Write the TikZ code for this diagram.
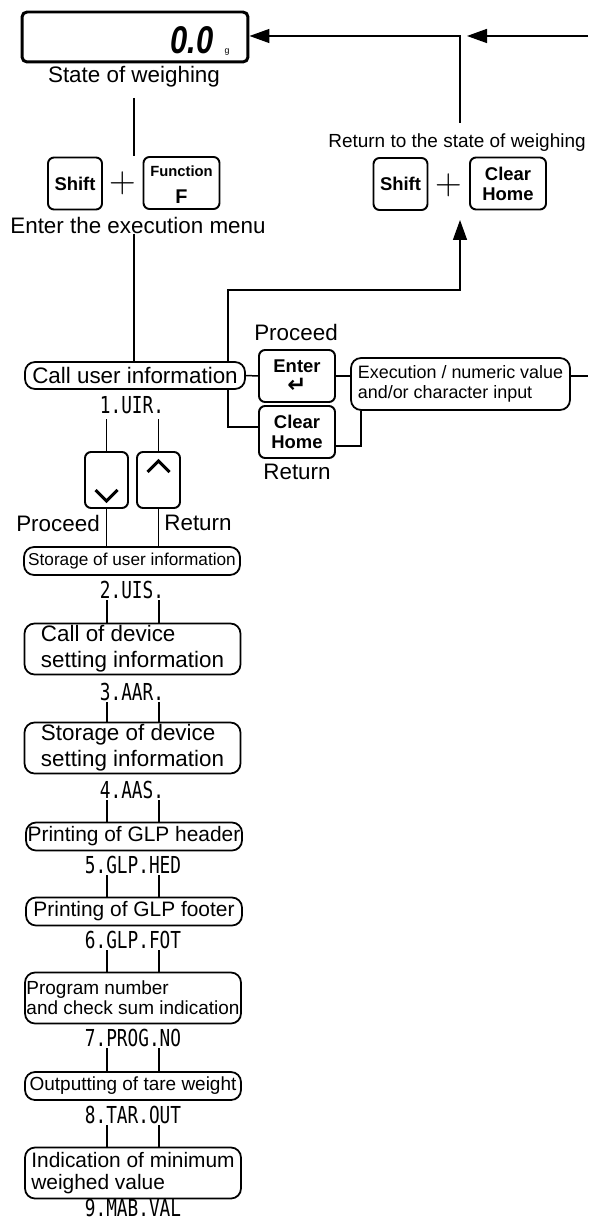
\documentclass[tikz,border=0pt]{standalone}
\usepackage{fontspec}
\setsansfont{Liberation Sans}
\renewcommand{\familydefault}{\sfdefault}
\newfontfamily\codefont[FakeStretch=0.76]{DejaVu Sans Mono}
\newfontfamily\dispfont[FakeStretch=0.8]{Liberation Sans}
\newfontfamily\symfont{DejaVu Sans}
\usetikzlibrary{arrows.meta,calc}
\newcommand{\fsz}[2]{\fontsize{#1pt}{#2pt}\selectfont}

\begin{document}
\begin{tikzpicture}[
  x=0.02cm, y=-0.02cm,
  every node/.style={font=\fsz{12.75}{14.7}, inner sep=0pt},
  wire/.style={line width=0.85pt},
  arr/.style={wire, -{Triangle[length=0.4cm,width=0.28cm]}},
  key/.style={draw, line width=1.1pt, rounded corners=0.12cm, align=center,
              font=\bfseries\fsz{10.5}{11.3}, minimum height=1.04cm},
  narrowkey/.style={key, minimum width=1.08cm},
  widekey/.style={key, minimum width=1.52cm},
  arrowkey/.style={key, minimum width=0.86cm, minimum height=1.12cm},
  menu/.style={draw, line width=1pt, rounded corners=0.2cm, align=left,
               minimum width=4.32cm},
  onerow/.style={menu, minimum height=0.56cm},
  tworow/.style={menu, minimum height=1.02cm},
  code/.style={font=\codefont\fsz{13.3}{13.3}, minimum height=0.4cm},
  plus/.style={font=\rmfamily\fsz{21}{21}},
  chev/.style={line width=1.7pt},
]
\useasboundingbox (0,0) rectangle (588,1222);

% ── weighing display ──────────────────
\node[draw, line width=1.7pt, rounded corners=0.1cm,
      minimum width=4.52cm, minimum height=1cm] (disp) at (135,37) {};
\node[font=\dispfont\bfseries\itshape\fsz{22}{22}, anchor=east] (zero) at (214,40) {0.0};
\node[font=\fsz{5}{5}] (unit) at (227,52) {g};
\node (state) at (134,77) {State of weighing};

% ── shift + function ────────────────
\node[narrowkey] (shiftA) at (75,183.5) {Shift};
\node[plus] (plusA) at (123,183) {+};
\node[widekey] (fnkey) at (181.5,183) {};
\node[font=\bfseries\fsz{8.4}{9}] (fnname) at (181.5,171) {Function};
\node[font=\bfseries\fsz{11.3}{12}] (fnletter) at (181.5,197) {F};
\node (menulbl) at (138,225) {Enter the execution menu};

% ── shift + clear/home ──────────────
\node[font=\fsz{10.8}{12}] (retlbl) at (457,143) {Return to the state of weighing};
\node[narrowkey] (shiftB) at (400.5,184) {Shift};
\node[plus] (plusB) at (449,185) {+};
\node[widekey] (clrB) at (508,183.5) {Clear\\Home};

% ── first menu item and its keys ────
\node[menu, minimum width=4.4cm, minimum height=0.54cm] (call) at (135,375.5)
  {Call user information};
\node[code] (c1) at (132,405) {1.UIR.};
\node (procR) at (296,332) {Proceed};
\node[widekey] (enter) at (297,376) {Enter\\{\symfont\fsz{13}{11.3}↵}};
\node[widekey] (clr) at (297,432) {Clear\\Home};
\node (retR) at (297,472) {Return};
\node[menu, minimum width=4.38cm, minimum height=1.04cm, font=\fsz{10.2}{11.4}]
  (exec) at (460.5,384) {Execution / numeric value\\and/or character input};

% ── up / down keys ──────────────────
\node[arrowkey] (dn) at (106.5,480) {};
\node[arrowkey] (up) at (158.5,480) {};
\draw[chev] ($(dn.center)+(-11,10)$) -- ($(dn.center)+(0,21)$) -- ($(dn.center)+(11,10)$);
\draw[chev] ($(up.center)+(-11,-8)$) -- ($(up.center)+(0,-19)$) -- ($(up.center)+(11,-8)$);
\node (procL) at (58,523) {Proceed};
\node (retL) at (198,523) {Return};

% ── menu list ───────────────────────
\node[onerow, font=\fsz{9.8}{11}] (b2) at (132,561) {Storage of user information};
\node[code] (c2) at (132,590) {2.UIS.};
\node[tworow] (b3) at (132.5,649) {Call of device\\setting information};
\node[code] (c3) at (132,692) {3.AAR.};
\node[tworow] (b4) at (132.5,748) {Storage of device\\setting information};
\node[code] (c4) at (132,790) {4.AAS.};
\node[onerow, font=\fsz{11.9}{13}] (b5) at (134,836.5) {Printing of GLP header};
\node[code] (c5) at (133,865) {5.GLP.HED};
\node[onerow, font=\fsz{11.9}{13}] (b6) at (134,911.5) {Printing of GLP footer};
\node[code] (c6) at (133,940) {6.GLP.FOT};
\node[tworow, font=\fsz{10.8}{11.3}] (b7) at (133,998) {Program number\\and check sum indication};
\node[code] (c7) at (133,1038) {7.PROG.NO};
\node[onerow, font=\fsz{10.8}{12}] (b8) at (133,1086) {Outputting of tare weight};
\node[code] (c8) at (133,1115) {8.TAR.OUT};
\node[tworow, font=\fsz{11.9}{13}] (b9) at (133,1173) {Indication of minimum\\weighed value};
\node[code] (c9) at (133,1208) {9.MAB.VAL};

% ── connectors ──────────────────────
\coordinate (colL) at (107,0);
\coordinate (colR) at (159,0);
\coordinate (corner) at (460,36);
\coordinate (rimTop) at (588,36);
\coordinate (rimMid) at (588,0);
\coordinate (tap) at (228,290);
\coordinate (lift) at (460,220);

\draw[wire, shorten <=0.2cm] (state.south) -- (state.south |- fnkey.north);
\draw[wire] (menulbl.south -| state.south) -- (call.north -| state.south);
\draw[arr, shorten <=0.22cm] (retlbl.north -| corner) -- (corner) -- (disp.east |- corner);
\draw[arr] (rimTop) -- ([xshift=0.14cm]corner);
\draw[arr] (call.north -| tap) -- (tap) -| (lift);

\draw[wire] (call.east) -- (enter.west);
\draw[wire] (enter.east) -- (enter.east -| exec.west);
\draw[wire] (enter.east -| exec.east) -- (enter.east -| rimMid);
\draw[wire] (call.south -| tap) |- ([yshift=0.1cm]clr.west);
\draw[wire] ([yshift=-0.28cm]clr.east) -| ($(exec.south west)+(11,0)$);

\draw[wire, shorten <=0.08cm] (c1.south -| dn.north) -- (dn.north);
\draw[wire, shorten <=0.08cm] (c1.south -| up.north) -- (up.north);
\draw[wire] (dn.south) -- (b2.north -| dn.south);
\draw[wire] (up.south) -- (b2.north -| up.south);
\foreach \a/\b in {c2/b3,c3/b4,c4/b5,c5/b6,c6/b7,c7/b8,c8/b9}{
  \draw[wire] (\a.south -| colL) -- (\b.north -| colL);
  \draw[wire] (\a.south -| colR) -- (\b.north -| colR);
}

\end{tikzpicture}
\end{document}
